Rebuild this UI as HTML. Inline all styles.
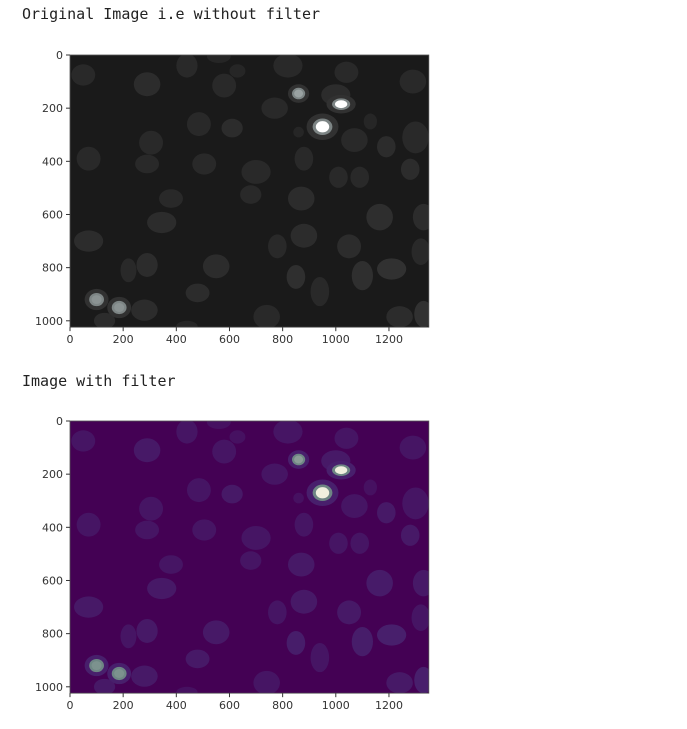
<!DOCTYPE html>
<html><head><meta charset="utf-8">
<style>
body{margin:0;background:#fff;width:687px;height:729px;overflow:hidden;font-family:"DejaVu Sans","Liberation Sans",sans-serif}
.t{position:absolute;left:22px;font-family:"DejaVu Sans Mono","Liberation Mono",monospace;font-size:15px;color:#222}
svg{position:absolute;left:0;top:0}
</style></head><body>
<div class="t" style="top:5px">Original Image i.e without filter</div>
<div class="t" style="top:372px">Image with filter</div>
<svg id="s" width="687" height="729"></svg>
<script>
// cell data: center x, center y (image pixel coords), radii, intensity
const cellX=[50,290,440,560,630,820,580,1040,1290,770,1000,485,610,860,1130,305,1070,1190,1300,70,290,505,700,880,1010,1090,1280,380,680,870,345,1165,1330,70,880,780,1050,1320,290,550,220,850,1100,1210,280,480,940,740,1240,1330,130,440,860,1020,950,100,185];
const cellY=[75,110,40,5,60,40,115,65,100,200,150,260,275,290,250,330,320,345,310,390,410,410,440,390,460,460,430,540,525,540,630,610,610,700,680,720,720,740,790,795,810,835,830,805,960,895,890,985,985,975,1000,1020,145,185,270,920,950];
const cellRX=[45,50,40,45,30,55,45,45,50,50,55,45,40,20,25,45,50,35,50,45,45,45,55,35,35,35,35,45,40,50,55,50,40,55,50,35,45,35,40,50,30,35,40,55,50,45,35,50,50,35,40,40,40,55,60,45,45];
const cellRY=[40,45,45,25,25,45,45,40,45,40,40,45,35,20,30,45,45,40,60,45,35,40,45,45,40,40,40,35,35,45,40,50,50,40,45,45,45,50,45,45,45,45,55,40,40,35,55,45,40,50,30,20,35,35,50,40,40];
const cellI=[0.1,0.12,0.1,0.08,0.08,0.1,0.1,0.1,0.1,0.1,0.12,0.1,0.12,0.08,0.08,0.1,0.1,0.12,0.1,0.1,0.1,0.1,0.1,0.1,0.1,0.1,0.12,0.1,0.1,0.12,0.12,0.13,0.12,0.12,0.12,0.1,0.12,0.1,0.12,0.12,0.1,0.14,0.14,0.15,0.12,0.12,0.1,0.1,0.12,0.15,0.12,0.08,0.65,1,1,0.6,0.6];
const xTicks=[0,200,400,600,800,1000,1200];
const yTicks=[0,200,400,600,800,1000];
const W=1350,H=1024;
const NS="http://www.w3.org/2000/svg";
const svg=document.getElementById('s');
function mk(t,a,p){const e=document.createElementNS(NS,t);for(const k in a)e.setAttribute(k,a[k]);(p||svg).appendChild(e);return e;}
function grayC(i){let v;if(i<0.5)v=Math.round(26+i*150);else v=Math.round(110+(i-0.5)*290);v=Math.min(255,v);const b=i>=0.5&&i<0.9?8:0;return `rgb(${v},${v+b},${v+b})`;}
function virC(i){if(i<0.5){const t=Math.min(1,i/0.25);return `rgb(${Math.round(68+6*t)},${Math.round(1+50*t)},${Math.round(84+40*t)})`;}const t=(i-0.5)/0.5;return `rgb(${Math.round(95+t*145)},${Math.round(122+t*118)},${Math.round(122+t*100)})`;}
function plot(name,top,bg,col){
  const L=70,S=0.2658;
  const sx=v=>L+v*S, sy=v=>top+v*S;
  const g=mk('g',{});
  
  
  const cid='c'+top;
  const cp=mk('clipPath',{id:cid},g);mk('rect',{x:L,y:top,width:W*S,height:H*S},cp);
  const bgR=mk('rect',{x:L,y:top,width:W*S,height:H*S,fill:bg},g);
  
  
  const cg=mk('g',{'clip-path':`url(#${cid})`},g);
  for(let k=0;k<cellX.length;k++){
    const i=cellI[k];
    if(i>0.5){
      const h=mk('ellipse',{cx:sx(cellX[k]),cy:sy(cellY[k]),rx:cellRX[k]*S,ry:cellRY[k]*S,fill:col(0.15)},cg);
      
      
      const m=mk('ellipse',{cx:sx(cellX[k]),cy:sy(cellY[k]),rx:cellRX[k]*0.62*S,ry:cellRY[k]*0.62*S,fill:col(0.55)},cg);
      
      
      const c=mk('ellipse',{cx:sx(cellX[k]),cy:sy(cellY[k]),rx:cellRX[k]*0.42*S,ry:cellRY[k]*0.42*S,fill:col(i)},cg);
      
      
      continue;
    }
    const e=mk('ellipse',{cx:sx(cellX[k]),cy:sy(cellY[k]),rx:cellRX[k]*S,ry:cellRY[k]*S,fill:col(i)},cg);
    
    
  }
  const fr=mk('rect',{x:L,y:top,width:W*S,height:H*S,fill:'none',stroke:'#555','stroke-width':0.8},g);
  
  
  xTicks.forEach(v=>{
    mk('line',{x1:sx(v),x2:sx(v),y1:top+H*S,y2:top+H*S+4,stroke:'#333'},g);
    const t=mk('text',{x:sx(v),y:top+H*S+16,'text-anchor':'middle','font-size':11,fill:'#333'},g);
    t.textContent=v;
    
    
  });
  yTicks.forEach(v=>{
    mk('line',{x1:L-4,x2:L,y1:sy(v),y2:sy(v),stroke:'#333'},g);
    const t=mk('text',{x:L-7,y:sy(v)+4,'text-anchor':'end','font-size':11,fill:'#333'},g);
    t.textContent=v;
    
    
  });
}
plot('original-image-plot',55,'#1a1a1a',grayC);
plot('filtered-image-plot',421,'#440154',virC);
</script>
</body></html>
